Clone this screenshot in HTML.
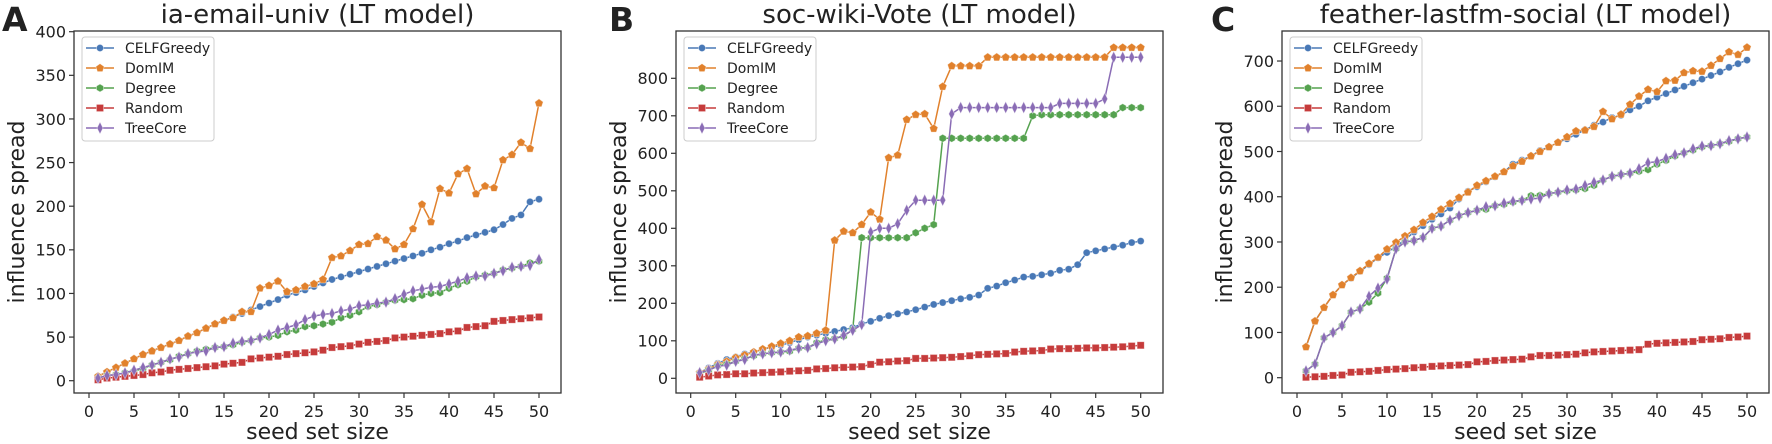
<!DOCTYPE html>
<html><head><meta charset="utf-8"><style>
html,body{margin:0;padding:0;background:#fff;}
svg{display:block;}
text{font-family:"DejaVu Sans","Liberation Sans",sans-serif;fill:#222;}
</style></head><body>
<svg id="s" width="1772" height="444" xmlns="http://www.w3.org/2000/svg"></svg>
<script>
const S=document.getElementById('s');let h='';
const col={c:'#4878b6',d:'#e1812c',g:'#55a24f',r:'#c63b3b',t:'#8a6cb5'};
function mk(type,x,y,c){
 const e='stroke="#fff" stroke-opacity="0.5" stroke-width="0.8"';
 if(type==='o')return `<circle cx="${x}" cy="${y}" r="3.6" fill="${c}" ${e}/>`;
 if(type==='h'){let p=[];for(let i=0;i<6;i++){let a=Math.PI/3*i+Math.PI/6;p.push((x+4*Math.cos(a)).toFixed(1)+','+(y+4*Math.sin(a)).toFixed(1));}return `<polygon points="${p.join(' ')}" fill="${c}" ${e}/>`;}
 if(type==='p'){let p=[];for(let i=0;i<5;i++){let a=-Math.PI/2+2*Math.PI/5*i;p.push((x+4.4*Math.cos(a)).toFixed(1)+','+(y+4.4*Math.sin(a)).toFixed(1));}return `<polygon points="${p.join(' ')}" fill="${c}" ${e}/>`;}
 if(type==='s')return `<rect x="${x-3.6}" y="${y-3.6}" width="7.2" height="7.2" fill="${c}" ${e}/>`;
 if(type==='d')return `<polygon points="${x},${y-6} ${x+3},${y} ${x},${y+6} ${x-3},${y}" fill="${c}" ${e}/>`;
}
function panel(o){
 const {L,R,T,B,x0,x50,y0,ppu,yt,title,letter,lx,ylx,leg,series}=o;
 const X=v=>x0+(x50-x0)*v/50, Y=v=>y0-v*ppu;
 h+=`<text x="${(L+R)/2}" y="23" font-size="26" text-anchor="middle">${title}</text>`;
 h+=`<text x="${lx}" y="31" font-size="33" font-weight="bold" font-family="DejaVu Sans">${letter}</text>`;
 const order=['c','d','g','r','t'],mks={c:'o',d:'p',g:'h',r:'s',t:'d'};
 for(const k of order){const d=series[k];let pts=d.map((v,i)=>X(i+1).toFixed(1)+','+Y(v).toFixed(1));
  h+=`<polyline points="${pts.join(' ')}" fill="none" stroke="${col[k]}" stroke-width="1.5"/>`;
  d.forEach((v,i)=>h+=mk(mks[k],X(i+1),Y(v),col[k]));}
 h+=`<rect x="${L}" y="${T}" width="${R-L}" height="${B-T}" fill="none" stroke="#333" stroke-width="1.3"/>`;
 for(let v=0;v<=50;v+=5){const x=X(v);h+=`<line x1="${x}" y1="${B}" x2="${x}" y2="${B+5}" stroke="#333" stroke-width="1.2"/><text x="${x}" y="417" font-size="16" text-anchor="middle">${v}</text>`;}
 for(const v of yt){const y=Y(v);h+=`<line x1="${L}" y1="${y}" x2="${L-5}" y2="${y}" stroke="#333" stroke-width="1.2"/><text x="${L-8}" y="${y+5.8}" font-size="16" text-anchor="end">${v}</text>`;}
 h+=`<text x="${(L+R)/2}" y="439" font-size="22" text-anchor="middle">seed set size</text>`;
 h+=`<text transform="translate(${ylx},${(T+B)/2}) rotate(-90)" font-size="22" text-anchor="middle">influence spread</text>`;
 h+=`<rect x="${leg}" y="37" width="132" height="104" rx="3" fill="#fff" fill-opacity="0.85" stroke="#ccc" stroke-width="1"/>`;
 const names={c:'CELFGreedy',d:'DomIM',g:'Degree',r:'Random',t:'TreeCore'};
 order.forEach((k,i)=>{const y=48+20*i;h+=`<line x1="${leg+4}" y1="${y}" x2="${leg+32}" y2="${y}" stroke="${col[k]}" stroke-width="1.5"/>`+mk(mks[k],leg+18,y,col[k])+`<text x="${leg+43}" y="${y+5}" font-size="14">${names[k]}</text>`;});
}
panel({L:74,R:561,T:31,B:393,x0:89,x50:539,y0:380.7,ppu:0.8725,yt:[0,50,100,150,200,250,300,350,400],title:'ia-email-univ (LT model)',letter:'A',lx:2,ylx:24,leg:82,series:{
c:[5,10,15,20,25,30,34,38,42,46,51,55,60,65,69,73,77,81,85,89,93,98,101,104,108,112,116,119,122,125,128,131,134,137,140,143,146,150,153,157,160,164,167,170,173,179,186,190,205,208],
d:[5,10,15,20,25,30,34,38,42,46,51,55,60,65,69,72,79,79,106,109,114,102,104,108,111,116,141,143,149,156,157,165,161,151,156,174,202,182,220,215,237,243,214,223,221,253,259,273,266,318],
g:[3,6,7,9,11,14,18,21,24,28,31,34,36,38,39,41,44,46,49,50,52,56,58,62,63,65,67,72,75,79,85,87,90,92,93,94,98,100,101,106,110,114,119,121,123,127,129,131,135,137],
r:[1,3,4,5,6,7,9,10,12,13,14,15,16,17,19,20,21,25,26,27,28,30,31,32,33,35,38,39,40,42,44,45,46,49,50,51,52,53,54,56,57,61,62,63,68,69,70,71,72,73],
t:[3,6,7,9,12,15,18,21,25,27,31,33,34,38,39,43,45,46,49,53,58,61,64,70,74,76,77,80,82,86,87,89,90,94,99,103,105,107,108,111,114,118,120,120,123,126,130,131,132,139]}});
panel({L:676,R:1163,T:31,B:393,x0:690.7,x50:1140.7,y0:378.3,ppu:0.375,yt:[0,100,200,300,400,500,600,700,800],title:'soc-wiki-Vote (LT model)',letter:'B',lx:609,ylx:626,leg:684,series:{
c:[15,28,40,50,57,65,70,77,83,88,95,103,110,115,120,125,130,135,145,152,160,167,172,177,183,190,197,202,207,212,216,222,240,246,255,262,270,272,276,280,288,291,303,335,340,345,350,355,362,366],
d:[15,25,37,45,55,62,70,78,85,93,100,110,113,120,128,368,392,388,410,443,424,588,595,690,703,705,666,778,833,833,833,833,856,856,856,856,856,856,856,856,856,856,856,856,856,856,882,882,882,882],
g:[12,22,33,38,45,52,60,65,68,70,72,80,82,95,103,106,112,130,375,375,375,375,375,375,388,400,410,640,640,640,640,640,640,640,640,640,640,700,703,703,703,703,703,703,703,703,703,722,722,722],
r:[3,6,9,10,12,12,14,15,16,17,19,20,21,25,26,28,29,30,31,37,43,44,46,47,53,53,54,55,56,58,60,63,64,65,66,70,72,73,74,78,79,79,80,81,81,82,83,84,86,88],
t:[15,22,32,35,45,50,62,65,68,70,75,80,82,92,100,105,115,128,143,390,400,400,412,448,475,475,475,475,705,722,722,722,722,722,722,722,722,722,722,722,733,733,733,733,733,745,856,856,856,856]}});
panel({L:1282,R:1769,T:31,B:393,x0:1297,x50:1747,y0:377.7,ppu:0.4524,yt:[0,100,200,300,400,500,600,700],title:'feather-lastfm-social (LT model)',letter:'C',lx:1211,ylx:1232,leg:1290,series:{
c:[68,125,155,183,205,220,235,250,265,277,290,305,322,336,350,362,375,395,412,422,433,444,455,472,481,490,502,510,520,528,538,548,558,565,575,580,592,600,612,620,628,636,644,652,660,668,676,686,694,702],
d:[68,125,155,183,205,221,236,252,266,284,299,313,327,343,356,372,385,398,410,425,435,445,455,468,478,490,500,510,520,532,545,547,555,588,572,582,604,622,637,632,656,657,674,678,677,690,705,720,714,730],
g:[15,30,88,100,115,145,152,167,187,220,285,300,303,310,330,335,348,358,365,370,372,380,383,388,392,402,403,407,410,413,415,418,425,437,445,449,452,456,460,472,480,490,497,503,510,513,517,522,528,532],
r:[1,2,3,5,6,12,13,14,16,18,19,20,22,23,25,26,27,28,29,35,36,38,39,40,41,46,49,49,50,51,52,55,57,58,59,60,61,62,74,76,77,78,79,80,84,85,86,89,90,92],
t:[15,30,88,100,115,145,152,180,198,218,285,300,303,310,330,335,348,358,365,370,378,380,386,390,392,395,397,407,410,415,417,425,432,437,445,449,452,462,475,478,485,493,497,506,512,513,517,524,528,532]}});
S.innerHTML=h;
</script>
</body></html>
